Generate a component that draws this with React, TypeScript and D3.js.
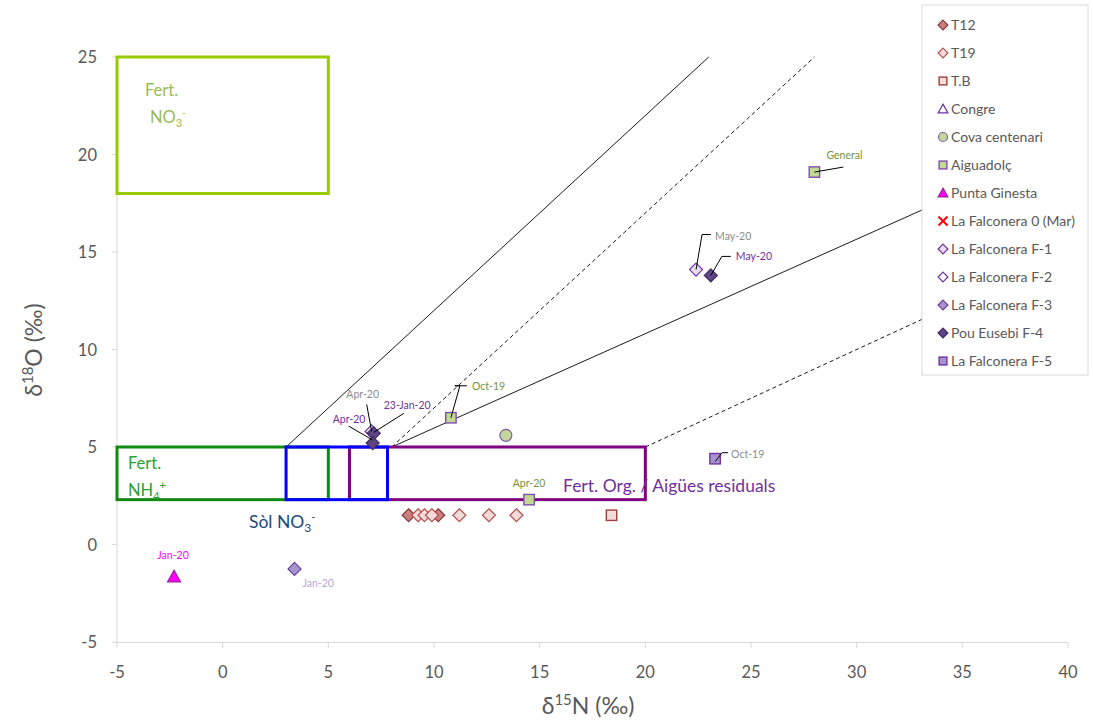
import React from "react";
import * as d3 from "d3";

const W = 1093, H = 720;
const xTicks = [-5, 0, 5, 10, 15, 20, 25, 30, 35, 40];
const yTicks = [-5, 0, 5, 10, 15, 20, 25];

// series: [d15N, d18O]
const t12 = [[8.8, 1.5], [10.2, 1.5]];
const t19 = [[9.25, 1.5], [9.55, 1.5], [9.9, 1.5], [11.2, 1.5], [12.6, 1.5], [13.9, 1.5]];
const tb = [[18.4, 1.5]];
const congre: number[][] = [];
const cova = [[13.4, 5.6]];
const aiguadolc = [[10.8, 6.5], [14.5, 2.3], [28.0, 19.1]];
const puntaGinesta = [[-2.3, -1.65]];
const falconera0: number[][] = [];
const f1 = [[7.05, 5.8], [22.4, 14.1]];
const f2: number[][] = [];
const f3 = [[3.4, -1.25]];
const f4 = [[7.15, 5.7], [7.1, 5.2], [23.1, 13.8]];
const f5 = [[23.3, 4.4]];

// source boxes [x0, x1, y0, y1]
const boxFertNO3 = [-5, 5, 18, 25];
const boxFertNH4 = [-5, 5, 2.3, 5];
const boxSol = [3, 7.8, 2.3, 5];
const boxOrg = [6, 20, 2.3, 5];

// reference lines [x0, y0, x1, y1]
const lineDenitUpperSolid = [3, 5, 23, 25];
const lineDenitUpperDash = [8, 5, 28, 25];
const lineLowerSolid = [8, 5, 40, 20.5];
const lineLowerDash = [20, 5, 40, 15];

type Series = { name: string; data: number[][]; shape: string; fill: string; stroke: string };
const series: Series[] = [
  { name: "T12", data: t12, shape: "diamond", fill: "#C98080", stroke: "#8C3836" },
  { name: "T19", data: t19, shape: "diamond", fill: "#F2DCDB", stroke: "#B9504D" },
  { name: "T.B", data: tb, shape: "square", fill: "#F2DCDB", stroke: "#A0403D" },
  { name: "Congre", data: congre, shape: "triangle", fill: "#FFFFFF", stroke: "#7030A0" },
  { name: "Cova centenari", data: cova, shape: "circle", fill: "#C3D69B", stroke: "#8064A2" },
  { name: "Aiguadolç", data: aiguadolc, shape: "square", fill: "#C2D994", stroke: "#7F4FB0" },
  { name: "Punta Ginesta", data: puntaGinesta, shape: "triangle", fill: "#FF00FF", stroke: "#A020A0" },
  { name: "La Falconera 0 (Mar)", data: falconera0, shape: "x", fill: "none", stroke: "#FF0000" },
  { name: "La Falconera F-1", data: f1, shape: "diamond", fill: "#E6E0EC", stroke: "#7030A0" },
  { name: "La Falconera F-2", data: f2, shape: "diamond", fill: "#FFFFFF", stroke: "#7030A0" },
  { name: "La Falconera F-3", data: f3, shape: "diamond", fill: "#A794CC", stroke: "#6A3F9A" },
  { name: "Pou Eusebi F-4", data: f4, shape: "diamond", fill: "#5E4585", stroke: "#3F2B60" },
  { name: "La Falconera F-5", data: f5, shape: "square", fill: "#A794CC", stroke: "#7030A0" },
];

// annotations: point, label, colour, leader (pixel offsets from point), text offset
type Ann = { p: number[]; text: string; color: string; leader: number[][]; tx: number; ty: number; anchor?: string };
const annotations: Ann[] = [
  { p: aiguadolc[2], text: "General", color: "#77933C", leader: [[0, 0], [29, -5]], tx: 12, ty: -13 },
  { p: f1[1], text: "May-20", color: "#8C8C8C", leader: [[0, 0], [6, -35], [15, -35]], tx: 19, ty: -30 },
  { p: f4[2], text: "May-20", color: "#7030A0", leader: [[0, 0], [11, -19], [20, -19]], tx: 25, ty: -15 },
  { p: aiguadolc[0], text: "Oct-19", color: "#77933C", leader: [[0, 0], [9, -32], [4, -32], [16, -32]], tx: 21, ty: -28 },
  { p: f1[0], text: "Apr-20", color: "#8C8C8C", leader: [[0, 0], [-5, -27]], tx: -9, ty: -33, anchor: "middle" },
  { p: f4[0], text: "23-Jan-20", color: "#7030A0", leader: [[0, -1], [30, -20]], tx: 10, ty: -24 },
  { p: f4[1], text: "Apr-20", color: "#7030A0", leader: [[0, -3], [-24, -17]], tx: -40, ty: -20 },
  { p: aiguadolc[1], text: "Apr-20", color: "#77933C", leader: [], tx: 0, ty: -13, anchor: "middle" },
  { p: f5[0], text: "Oct-19", color: "#8C8C8C", leader: [[0, 3], [7, -6], [13, -6]], tx: 16, ty: -1 },
  { p: puntaGinesta[0], text: "Jan-20", color: "#FF00FF", leader: [], tx: -1, ty: -18, anchor: "middle" },
  { p: f3[0], text: "Jan-20", color: "#B4A7D6", leader: [], tx: 8, ty: 18 },
];

const FONT = "Lato, 'Open Sans', sans-serif";

function Marker({ shape, fill, stroke, x, y, s = 1 }: any) {
  if (shape === "diamond") {
    const r = 6.5 * s;
    return <path d={`M${x},${y - r}L${x + r},${y}L${x},${y + r}L${x - r},${y}Z`} fill={fill} stroke={stroke} strokeWidth={1.2} />;
  }
  if (shape === "square") {
    const r = 5.2 * s;
    return <rect x={x - r} y={y - r} width={2 * r} height={2 * r} fill={fill} stroke={stroke} strokeWidth={1.4} />;
  }
  if (shape === "circle") {
    return <circle cx={x} cy={y} r={6 * s} fill={fill} stroke={stroke} strokeWidth={1.2} />;
  }
  if (shape === "triangle") {
    const r = 6.5 * s;
    return <path d={`M${x},${y - r}L${x + r},${y + r * 0.8}L${x - r},${y + r * 0.8}Z`} fill={fill} stroke={stroke} strokeWidth={1.2} />;
  }
  const r = 6 * s;
  return <path d={`M${x - r},${y - r}L${x + r},${y + r}M${x + r},${y - r}L${x - r},${y + r}`} stroke={stroke} strokeWidth={2} />;
}

export default function App() {
  const x = d3.scaleLinear().domain([-5, 40]).range([117, 1068]);
  const y = d3.scaleLinear().domain([-5, 25]).range([642, 57]);
  const line = d3.line();

  const box = (b: number[], color: string) => (
    <rect x={x(b[0])} y={y(b[3])} width={x(b[1]) - x(b[0])} height={y(b[2]) - y(b[3])} fill="none" stroke={color} strokeWidth={3} />
  );
  const refLine = (l: number[], dash: boolean) => (
    <path d={line([[x(l[0]), y(l[1])], [x(l[2]), y(l[3])]]) || ""} stroke="#000" strokeWidth={0.9} fill="none" strokeDasharray={dash ? "4,3" : undefined} />
  );

  const legendX = 922, legendY = 5, legendRow = 28;

  return (
    <svg width={W} height={H} style={{ position: "absolute", left: 0, top: 0, background: "#fff" }} fontFamily={FONT}>
      {/* axes */}
      <line x1={117} x2={117} y1={57} y2={642} stroke="#D9D9D9" strokeWidth={1} />
      <line x1={117} x2={1068} y1={642.5} y2={642.5} stroke="#D9D9D9" strokeWidth={1} />
      {yTicks.map((t) => (
        <g key={"y" + t}>
          <line x1={112} x2={117} y1={y(t)} y2={y(t)} stroke="#D9D9D9" />
          <text x={97} y={y(t) + 6} textAnchor="end" fontSize={16.5} fill="#595959">{t}</text>
        </g>
      ))}
      {xTicks.map((t) => (
        <g key={"x" + t}>
          <line x1={x(t)} x2={x(t)} y1={642} y2={648} stroke="#D9D9D9" />
          <text x={x(t)} y={678} textAnchor="middle" fontSize={16.5} fill="#595959">{t}</text>
        </g>
      ))}
      <text x={588} y={714} textAnchor="middle" fontSize={23} fill="#595959">
        δ<tspan fontSize={15} dy={-9}>15</tspan><tspan dy={9}>N (‰)</tspan>
      </text>
      <text transform="translate(42,350) rotate(-90)" textAnchor="middle" fontSize={23} fill="#595959">
        δ<tspan fontSize={15} dy={-9}>18</tspan><tspan dy={9}>O (‰)</tspan>
      </text>

      {/* reference lines */}
      {refLine(lineDenitUpperSolid, false)}
      {refLine(lineDenitUpperDash, true)}
      {refLine(lineLowerSolid, false)}
      {refLine(lineLowerDash, true)}

      {/* source boxes */}
      {box(boxFertNO3, "#99CC00")}
      {box(boxFertNH4, "#108A10")}
      {box(boxOrg, "#800080")}
      {box(boxSol, "#0000FF")}

      {/* box labels */}
      <text x={145} y={96} fontSize={16.5} fill="#9BBB59">Fert.</text>
      <text x={150} y={123} fontSize={16.5} fill="#9BBB59">NO<tspan fontSize={11} dy={4}>3</tspan><tspan fontSize={10} dy={-11}>-</tspan></text>
      <text x={128} y={469} fontSize={16.5} fill="#2EA02E">Fert.</text>
      <text x={128} y={496} fontSize={16.5} fill="#2EA02E">NH<tspan fontSize={11} dy={4}>4</tspan><tspan fontSize={11} dy={-11}>+</tspan></text>
      <text x={249} y={528} fontSize={17.5} fill="#1F497D">Sòl NO<tspan fontSize={12} dy={4}>3</tspan><tspan fontSize={11} dy={-11}>-</tspan></text>
      <text x={563} y={492} fontSize={17.5} fill="#7030A0">Fert. Org. / Aigües residuals</text>

      {/* points */}
      {series.map((s) =>
        s.data.map((d, i) => <Marker key={s.name + i} shape={s.shape} fill={s.fill} stroke={s.stroke} x={x(d[0])} y={y(d[1])} />)
      )}

      {/* annotations */}
      {annotations.map((a, i) => {
        const px = x(a.p[0]), py = y(a.p[1]);
        return (
          <g key={"a" + i}>
            {a.leader.length > 0 && (
              <path d={line(a.leader.map((o) => [px + o[0], py + o[1]]) as any) || ""} fill="none" stroke="#000" strokeWidth={1} />
            )}
            <text x={px + a.tx} y={py + a.ty} fontSize={10.5} fill={a.color} textAnchor={a.anchor || "start"}>{a.text}</text>
          </g>
        );
      })}

      {/* legend */}
      <rect x={legendX} y={legendY} width={166} height={370} fill="#fff" stroke="#D9D9D9" />
      {series.map((s, i) => (
        <g key={"l" + i}>
          <Marker shape={s.shape} fill={s.fill} stroke={s.stroke} x={943} y={legendY + 20 + i * legendRow} s={0.75} />
          <text x={951} y={legendY + 25 + i * legendRow} fontSize={14} fill="#595959">{s.name}</text>
        </g>
      ))}
    </svg>
  );
}
